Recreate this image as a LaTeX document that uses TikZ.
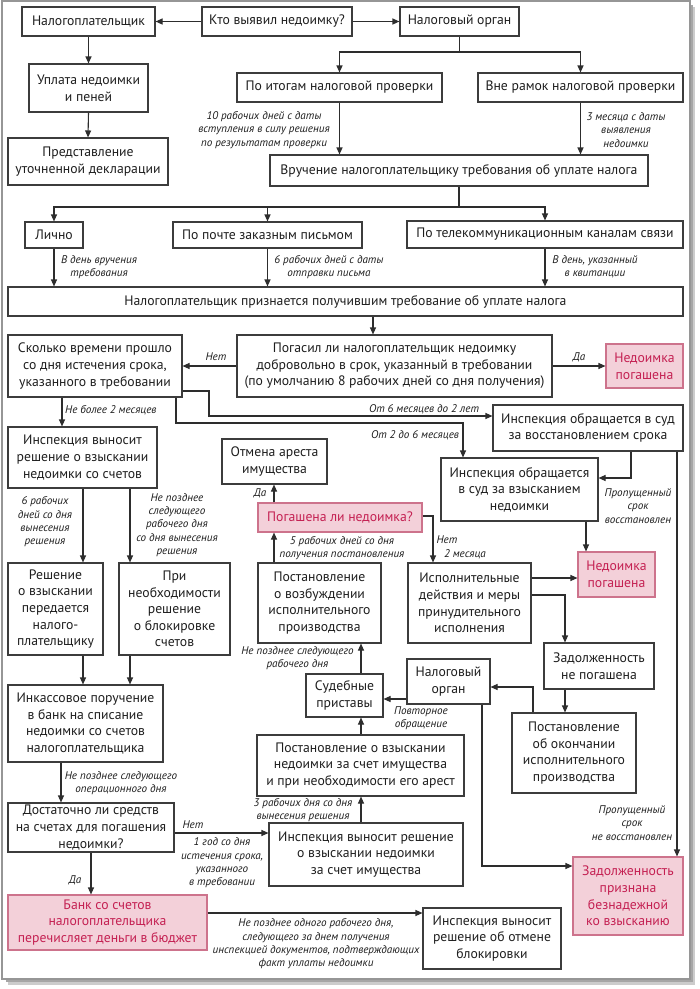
\documentclass[tikz,border=0pt]{standalone}
\usepackage{fontspec}
\setmainfont{PT Sans}
\usetikzlibrary{arrows.meta,calc}
\definecolor{boxc}{RGB}{60,60,60}
\definecolor{linec}{RGB}{45,45,45}
\definecolor{txt}{RGB}{30,30,30}
\definecolor{pinkfill}{RGB}{243,208,217}
\definecolor{pinkdraw}{RGB}{205,115,140}
\definecolor{pinktext}{RGB}{196,32,82}
\definecolor{frame}{RGB}{150,150,150}
\newcommand\mybox[7][box]{%
  \pgfmathsetmacro\cx{(#3+#5)/2}\pgfmathsetmacro\cy{(#4+#6)/2}%
  \pgfmathsetmacro\ww{#5-#3}\pgfmathsetmacro\hh{#6-#4}%
  \node[#1, minimum width=\ww pt, minimum height=\hh pt] (#2) at (\cx,\cy) {#7};}
\tikzset{
  box/.style={draw=boxc, line width=1.1pt, fill=white, align=center, inner sep=0pt,
    text=txt, font=\fontsize{13.7}{16.6}\selectfont},
  pbox/.style={box, draw=pinkdraw, fill=pinkfill, text=pinktext},
  lbl/.style={align=center, inner sep=0pt, text=txt, font=\fontsize{11.1}{13.3}\selectfont\itshape},
  ln/.style={draw=linec, line width=1.1pt},
  arr/.style={ln, -{Triangle[length=7pt,width=6pt]}},
}
\begin{document}
\begin{tikzpicture}[x=1pt,y=-1pt]
\useasboundingbox (0,0) rectangle (700,989);
\fill[white] (0,0) rectangle (700,989);
% page frame with shadow
\fill[black!20] (8,7) rectangle (695,985);
\fill[black!35] (6,5) rectangle (693,982);
\filldraw[fill=white, draw=frame, line width=2pt] (2,1) rectangle (690,979);

% ---------- nodes ----------
\mybox{np}{22}{7}{155}{36}{Налогоплательщик}
\mybox{who}{202}{7}{352}{36}{Кто выявил недоимку?}
\mybox{no}{400}{7}{519}{36}{Налоговый орган}
\mybox{pay}{29}{64}{148}{112}{Уплата недоимки\\и пеней}
\mybox{decl}{8}{138}{168}{185}{Представление\\уточненной декларации}
\mybox{itog}{237}{73}{442}{102}{По итогам налоговой проверки}
\mybox{vne}{478}{73}{683}{102}{Вне рамок налоговой проверки}
\mybox{vruch}{270}{155}{648}{186}{Вручение налогоплательщику требования об уплате налога}
\mybox{lichno}{25}{222}{83}{248}{Лично}
\mybox{pochta}{173}{222}{362}{248}{По почте заказным письмом}
\mybox{tele}{407}{221}{683}{248}{По телекоммуникационным каналам связи}
\mybox{recv}{8}{287}{683}{316}{Налогоплательщик признается получившим требование об уплате налога}
\mybox{skolko}{8}{335}{182}{397}{Сколько времени прошло\\со дня истечения срока,\\указанного в требовании}
\mybox{pogasil}{237}{335}{552}{397}{Погасил ли налогоплательщик недоимку\\добровольно в срок, указанный в требовании\\(по умолчанию 8 рабочих дней со дня получения)}
\mybox[pbox]{nedpog1}{606}{344}{683}{388}{Недоимка\\погашена}
\mybox{reshschet}{8}{427}{157}{488}{Инспекция выносит\\решение о взыскании\\недоимки со счетов}
\mybox{vosst}{493}{405}{683}{451}{Инспекция обращается в суд\\за восстановлением срока}
\mybox{vzysk}{441}{458}{598}{521}{Инспекция обращается\\в суд за взысканием\\недоимки}
\mybox{otmena}{222}{439}{327}{484}{Отмена ареста\\имущества}
\mybox[pbox]{pogli}{258}{503}{422}{532}{Погашена ли недоимка?}
\mybox{vozb}{258}{563}{381}{643}{Постановление\\о возбуждении\\исполнительного\\производства}
\mybox{ispdeist}{408}{563}{531}{643}{Исполнительные\\действия и меры\\принудительного\\исполнения}
\mybox[pbox]{nedpog2}{578}{552}{655}{597}{Недоимка\\погашена}
\mybox{zadne}{544}{643}{654}{689}{Задолженность\\не погашена}
\mybox{okonch}{512}{713}{636}{793}{Постановление\\об окончании\\исполнительного\\производства}
\mybox{no2}{407}{659}{490}{704}{Налоговый\\орган}
\mybox{prist}{306}{674}{383}{717}{Судебные\\приставы}
\mybox{postim}{257}{735}{464}{796}{Постановление о взыскании\\недоимки за счет имущества\\и при необходимости его арест}
\mybox{reshim}{269}{823}{463}{886}{Инспекция выносит решение\\о взыскании недоимки\\за счет имущества}
\mybox{reshpered}{8}{563}{103}{655}{Решение\\о взыскании\\передается\\налого-\\плательщику}
\mybox{block}{119}{563}{230}{655}{При\\необходимости\\решение\\о блокировке\\счетов}
\mybox{inkasso}{8}{685}{163}{762}{Инкассовое поручение\\в банк на списание\\недоимки со счетов\\налогоплательщика}
\mybox{dostat}{8}{803}{174}{852}{Достаточно ли средств\\на счетах для погашения\\недоимки?}
\mybox[pbox]{bank}{8}{895}{207}{950}{Банк со счетов\\налогоплательщика\\перечисляет деньги в бюджет}
\mybox{otmblock}{423}{908}{561}{969}{Инспекция выносит\\решение об отмене\\блокировки}
\mybox[pbox]{beznad}{573}{857}{683}{935}{Задолженность\\признана\\безнадежной\\ко взысканию}

% ---------- connectors ----------
\draw[arr] (who.west) -- (np.east);
\draw[arr] (who.east) -- (no.west);
\draw[arr] (np.south) -- (pay.north);
\draw[arr] (pay.south) -- (decl.north);
\coordinate (j1) at (459.5,52);
\draw[ln] (no.south) -- (j1);
\draw[arr] (j1) -| (itog.north);
\draw[arr] (j1) -| (vne.north);
\draw[arr] (itog.south) -- (itog.south |- vruch.north);
\draw[arr] (vne.south) -- (vne.south |- vruch.north);
\coordinate (j2) at (459,207);
\draw[ln] (vruch.south) -- (j2);
\draw[arr] (j2) -| (lichno.north);
\draw[arr] (j2) -| (pochta.north);
\draw[arr] (j2) -| (tele.north);
\draw[arr] (lichno.south) -- (lichno.south |- recv.north);
\draw[arr] (pochta.south) -- (pochta.south |- recv.north);
\draw[arr] (tele.south) -- (tele.south |- recv.north);
\draw[arr] (373,0 |- recv.south) -- (373,0 |- pogasil.north);
\draw[arr] (pogasil.west) -- (skolko.east);
\draw[arr] (pogasil.east) -- (nedpog1.west);
\draw[arr] (62,0 |- skolko.south) -- (62,0 |- reshschet.north);
\draw[arr] (skolko.east |- 0,391) -- (209,391) -- (209,416) -- (vosst.west |- 0,416);
\draw[arr] (176,0 |- skolko.south) -- (176,423) -- (463,423) -- (463,0 |- vzysk.north);
\draw[arr] (631,0 |- vosst.south) |- (vzysk.east |- 0,478);
\draw[arr] (677,0 |- vosst.south) -- (677,0 |- beznad.north);
\draw[arr] (586,0 |- vzysk.south) -- (586,0 |- nedpog2.north);
\draw[arr] (83,0 |- reshschet.south) -- (83,0 |- reshpered.north);
\draw[arr] (130,0 |- reshschet.south) -- (130,0 |- block.north);
\draw[arr] (83,0 |- reshpered.south) -- (83,0 |- inkasso.north);
\draw[arr] (130,0 |- block.south) -- (130,0 |- inkasso.north);
\draw[arr] (61,0 |- inkasso.south) -- (61,0 |- dostat.north);
\draw[arr] (dostat.east |- 0,833) -- (reshim.west |- 0,833);
\draw[arr] (91,0 |- dostat.south) -- (91,0 |- bank.north);
\draw[arr] (bank.east |- 0,913) -- (otmblock.west |- 0,913);
\draw[arr] (361,0 |- reshim.north) -- (361,0 |- postim.south);
\draw[arr] (361,0 |- postim.north) -- (361,0 |- prist.south);
\draw[arr] (361,0 |- prist.north) -- (361,0 |- vozb.south);
\draw[arr] (274,0 |- vozb.north) -- (274,0 |- pogli.south);
\draw[arr] (274,0 |- pogli.north) -- (274,0 |- otmena.south);
\draw[arr] (pogli.east |- 0,516) -| (433,0 |- ispdeist.north);
\draw[arr] (ispdeist.east |- 0,578) -- (nedpog2.west |- 0,578);
\draw[arr] (ispdeist.east |- 0,595) -| (565,0 |- zadne.north);
\draw[arr] (565,0 |- zadne.south) -- (565,0 |- okonch.north);
\draw[arr] (533,0 |- okonch.north) |- (no2.east |- 0,687);
\draw[arr] (no2.west |- 0,699) -- (prist.east |- 0,699);
\draw[arr] (482,0 |- no2.south) |- (beznad.west |- 0,866);

% ---------- labels ----------
\node[lbl] (l1) at (264,130) {10 рабочих дней с даты\\вступления в силу решения\\по результатам проверки};
\node[lbl] (l2) at (626,130) {3 месяца с даты\\выявления\\недоимки};
\node[lbl] (l3) at (99,267) {В день вручения\\требования};
\node[lbl] (l4) at (329,267) {6 рабочих дней с даты\\отправки письма};
\node[lbl] (l5) at (595,267) {В день, указанный\\в квитанции};
\node[lbl] (l6) at (216,357) {Нет};
\node[lbl] (l7) at (579,357) {Да};
\node[lbl, anchor=west] (l8) at (65,410) {Не более 2 месяцев};
\node[lbl] (l9) at (424,409) {От 6 месяцев до 2 лет};
\node[lbl] (l10) at (415,435) {От 2 до 6 месяцев};
\node[lbl] (l11) at (638,506) {Пропущенный\\срок\\восстановлен};
\node[lbl] (l12) at (45,522) {6 рабочих\\дней со дня\\вынесения\\решения};
\node[lbl] (l13) at (177,525) {Не позднее\\следующего\\рабочего дня\\со дня вынесения\\решения};
\node[lbl] (l14) at (260,493) {Да};
\node[lbl] (l15) at (342,548) {5 рабочих дней со дня\\получения постановления};
\node[lbl] (l16) at (447,540) {Нет};
\node[lbl] (l17) at (465,554) {2 месяца};
\node[lbl] (l18) at (297.5,658) {Не позднее следующего\\рабочего дня};
\node[lbl] (l19) at (421,718) {Повторное\\обращение};
\node[lbl] (l20) at (303,810) {3 рабочих дня со дня\\вынесения решения};
\node[lbl] (l21) at (193,825) {Нет};
\node[lbl] (l22) at (222,863) {1 год со дня\\истечения срока,\\указанного\\в требовании};
\node[lbl] (l23) at (121,783) {Не позднее следующего\\операционного дня};
\node[lbl] (l24) at (75,880) {Да};
\node[lbl] (l25) at (316,944) {Не позднее одного рабочего дня,\\следующего за днем получения\\инспекцией документов, подтверждающих\\факт уплаты недоимки};
\node[lbl] (l26) at (632,823) {Пропущенный\\срок\\не восстановлен};
\end{tikzpicture}
\end{document}
